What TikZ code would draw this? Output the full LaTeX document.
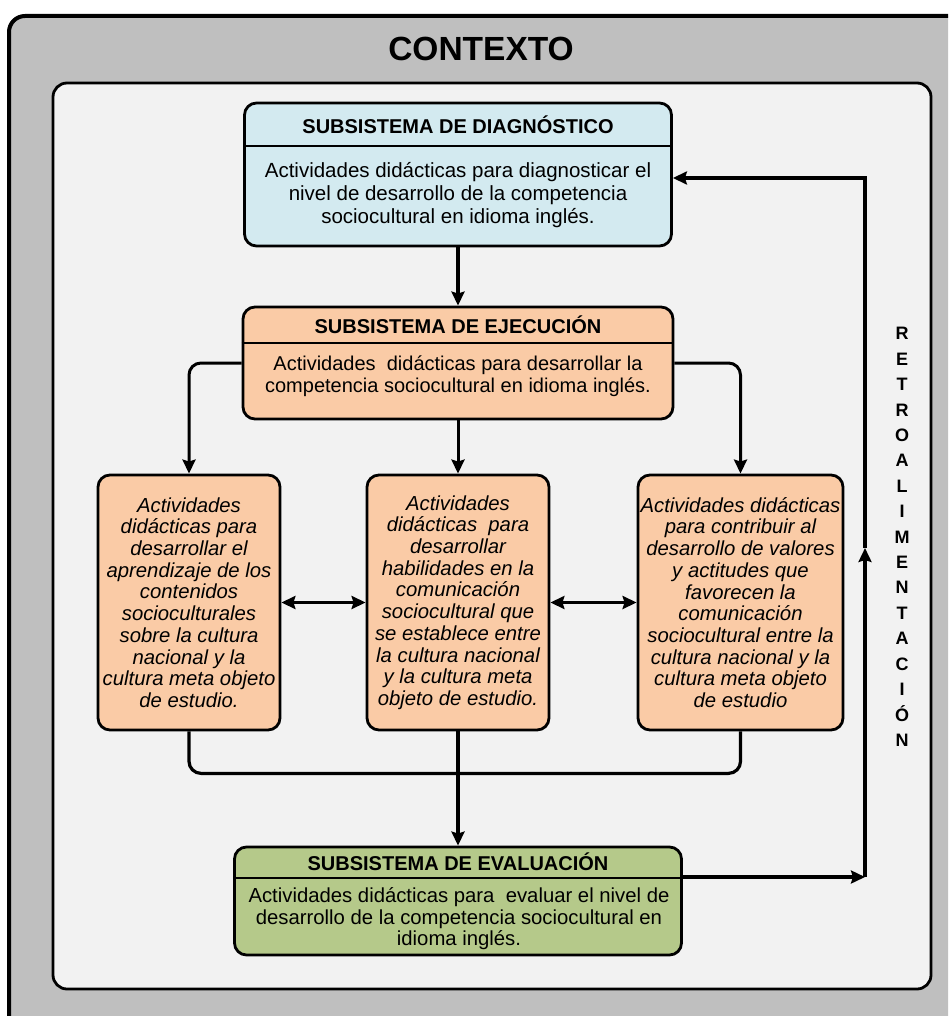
\documentclass[tikz,border=0pt]{standalone}
\usepackage{fontspec}
\setmainfont{Liberation Sans}
\usetikzlibrary{arrows.meta}

\definecolor{contextgray}{HTML}{BFBFBF}
\definecolor{panelgray}{HTML}{F2F2F2}
\definecolor{diagblue}{HTML}{D3EAF0}
\definecolor{peach}{HTML}{FACBA6}
\definecolor{evalgreen}{HTML}{B5C98A}

\begin{document}
\begin{tikzpicture}[x=1pt, y=-1pt,
        box/.style = {draw, line width=2.8pt, rounded corners=12pt, inner sep=0pt},
        head/.style = {font=\bfseries\fontsize{20}{22}\selectfont},
        body/.style = {align=center, font=\fontsize{20.5}{23}\selectfont},
        act/.style = {box, fill=peach, align=center, minimum height=255pt, font=\itshape\fontsize{20.3}{21.7}\selectfont},
        link/.style = {line width=3pt, -{Stealth[length=14pt, width=13pt, inset=2pt]}},
        dlink/.style = {line width=3pt, {Stealth[length=14pt, width=13pt, inset=2pt]}-{Stealth[length=14pt, width=13pt, inset=2pt]}},
        biglink/.style = {link, line width=4.5pt}]
        \useasboundingbox (0,0) rectangle (948,1016);
        \clip (0,0) rectangle (948,1016);
        \fill[white] (0,0) rectangle (948,1016);
        % fondo: contexto y panel
        \draw[fill=contextgray, line width=4pt, rounded corners=16pt] (9,16) rectangle (990,1060);
        \node[font=\bfseries\fontsize{33.5}{36}\selectfont] (contexto) at (481,49) {CONTEXTO};
        \draw[fill=panelgray, line width=2.8pt, rounded corners=14pt] (53,83) rectangle (931,989);
        % subsistema de diagnostico
        \node[box, fill=diagblue, minimum width=427pt, minimum height=143pt] (diag) at (458,174.5) {};
        \node[head] (diaghead) at (458,125) {SUBSISTEMA DE DIAGNÓSTICO};
        \draw[line width=2.8pt] (diag.west |- 0,146) -- (diag.east |- 0,146);
        \node[body] (diagtext) at (458,195) {Actividades didácticas para diagnosticar el\\
            nivel de desarrollo de la competencia\\ sociocultural en idioma inglés.};
        % subsistema de ejecucion
        \node[box, fill=peach, minimum width=430pt, minimum height=112pt] (ejec) at (458,363) {};
        \node[head] (ejechead) at (458,325) {SUBSISTEMA DE EJECUCIÓN};
        \draw[line width=2.8pt] (ejec.west |- 0,343) -- (ejec.east |- 0,343);
        \node[body, font=\fontsize{20}{21.5}\selectfont] (ejectext) at (458,376) {Actividades \ didácticas para desarrollar la\\
            competencia sociocultural en idioma inglés.};
        % actividades
        \node[act, minimum width=182pt] (left) at (189,602.5) {Actividades\\ didácticas para\\ desarrollar el\\
            aprendizaje de los\\ contenidos\\ socioculturales\\ sobre la cultura\\ nacional y la\\
            cultura meta objeto\\ de estudio.};
        \node[act, minimum width=182pt] (mid) at (458,602.5) {Actividades\\ didácticas \ para\\ desarrollar\\
            habilidades en la\\ comunicación\\ sociocultural que\\ se establece entre\\ la cultura nacional\\
            y la cultura meta\\ objeto de estudio.};
        \node[act, minimum width=205pt] (right) at (740.5,602.5) {Actividades didácticas\\ para contribuir al\\
            desarrollo de valores\\ y actitudes que\\ favorecen la\\ comunicación\\ sociocultural entre la\\
            cultura nacional y la\\ cultura meta objeto\\ de estudio};
        % subsistema de evaluacion
        \node[box, fill=evalgreen, minimum width=447pt, minimum height=108pt] (eval) at (458,901) {};
        \node[head] (evalhead) at (458,862) {SUBSISTEMA DE EVALUACIÓN};
        \draw[line width=2.8pt] (eval.west |- 0,878) -- (eval.east |- 0,878);
        \node[body, font=\fontsize{20.3}{21.5}\selectfont] (evaltext) at (459,919) {Actividades didácticas para \ evaluar el nivel de\\
            desarrollo de la competencia sociocultural en\\ idioma inglés.};
        % retroalimentacion
        \node[align=center, font=\bfseries\fontsize{18}{25.4}\selectfont] (retro) at (902,537)
            {R\\E\\T\\R\\O\\A\\L\\I\\M\\E\\N\\T\\A\\C\\I\\Ó\\N};
        \coordinate (fbbot) at (865,877);
        \coordinate (fbmid) at (865,548);
        \coordinate (fbtop) at (865,178);
        % conexiones
        \draw[biglink] (diag) -- (ejec);
        \begin{scope}[rounded corners=12pt]
            \draw[link] (ejec.west) -| (left);
            \draw[link] (ejec.east) -| (right);
            \draw[line width=3.2pt] (left.south) -- ++(0,42) -| (right.south);
        \end{scope}
        \draw[link] (ejec) -- (mid);
        \draw[dlink] (left) -- (mid);
        \draw[dlink] (mid) -- (right);
        \draw[biglink] (mid) -- (eval);
        \draw[biglink] (eval.east |- fbbot) -- (fbbot);
        \draw[biglink] (fbbot) -- (fbmid);
        \draw[link, line width=3.5pt] (fbmid) -- (fbtop) -- (diag.east |- fbtop);
    \end{tikzpicture}
\end{document}
